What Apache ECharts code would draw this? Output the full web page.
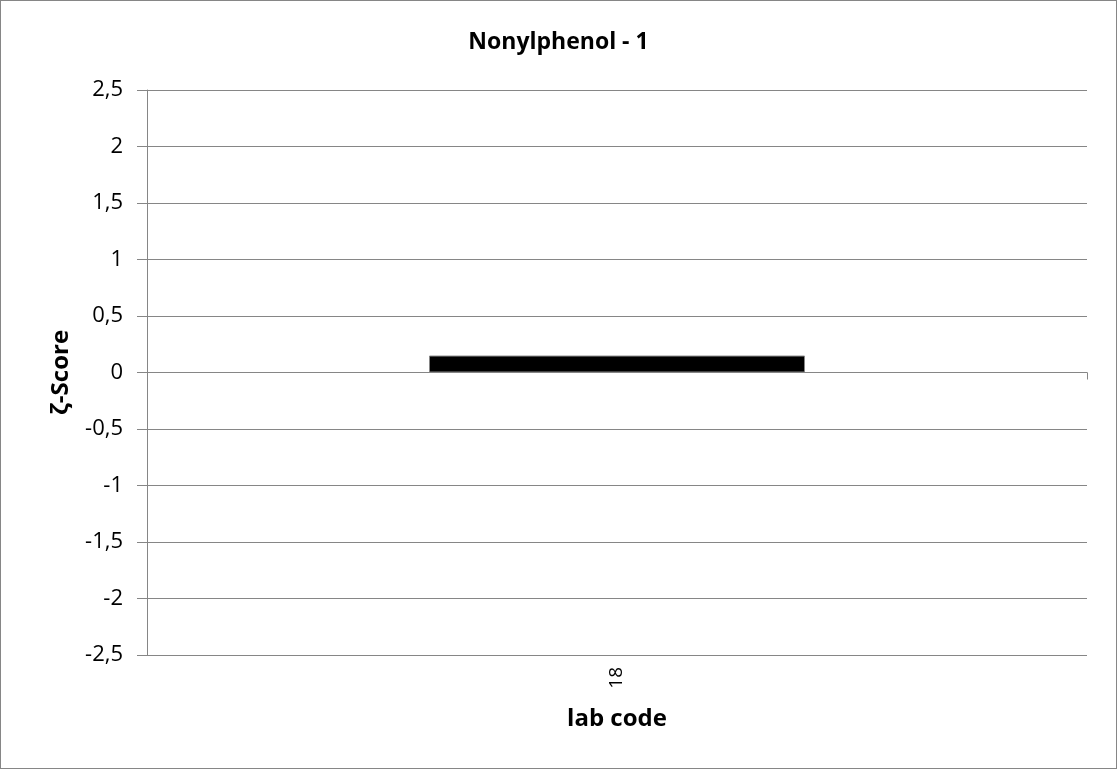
<!DOCTYPE html>
<html>
<head>
	<meta charset="utf-8">
	<title>Nonylphenol - 1</title>
	<script src="https://cdn.jsdelivr.net/npm/echarts@6/dist/echarts.min.js"></script>
	<style>
		html,body{margin:0;padding:0;background:#fff;}
		#chart{width:1117px;height:769px;box-sizing:border-box;border:1px solid #868686;}
	</style>
</head>
<body>
	<div id="chart"></div>
<script type="text/javascript">
	var labCodes = ['18'];
	var zScores = [0.15];
	var yTicks = [-2.5, 2.5, 0.5];

	var font = '"Open Sans", "Liberation Sans", sans-serif';
	var chart = echarts.init(document.getElementById('chart'));
	var option = {
		animation: false,
		title: {
			text: 'Nonylphenol - 1',
			left: 'center',
			top: 25,
			textStyle: {fontFamily: font, fontSize: 23, fontWeight: 'bold', color: '#000'}
		},
		grid: {left: 146, right: 29, top: 89, bottom: 113},
		xAxis: [
			{
				type: 'category',
				data: labCodes,
				position: 'bottom',
				axisLine: {onZero: true, lineStyle: {color: '#868686', width: 1}},
				axisTick: {show: true, length: 7, lineStyle: {color: '#868686'}},
				axisLabel: {show: false},
				splitLine: {show: false}
			},
			{
				type: 'category',
				data: labCodes,
				position: 'bottom',
				offset: 0,
				axisLine: {show: false, onZero: false},
				axisTick: {show: false},
				axisLabel: {rotate: 90, margin: 12, fontFamily: font, fontSize: 19, color: '#000'},
				name: 'lab code',
				nameLocation: 'middle',
				nameGap: 52,
				nameTextStyle: {fontFamily: font, fontSize: 24, fontWeight: 'bold', color: '#000'}
			}
		],
		yAxis: {
			type: 'value',
			min: yTicks[0],
			max: yTicks[1],
			interval: yTicks[2],
			axisLine: {show: true, lineStyle: {color: '#868686'}},
			axisTick: {show: true, length: 10, lineStyle: {color: '#868686'}},
			splitLine: {lineStyle: {color: '#868686', width: 1}},
			axisLabel: {
				margin: 24,
				fontFamily: font, fontSize: 22, color: '#000',
				formatter: function(v){ return String(v).replace('.', ','); }
			},
			name: 'ζ-Score',
			nameLocation: 'middle',
			nameGap: 74,
			nameTextStyle: {fontFamily: font, fontSize: 24, fontWeight: 'bold', color: '#000'}
		},
		series: [
			{
				type: 'bar',
				xAxisIndex: 0,
				data: zScores,
				barWidth: '40%',
				itemStyle: {color: '#000', borderColor: '#868686', borderWidth: 1}
			}
		]
	};
	chart.setOption(option);
</script>
</body>
</html>
